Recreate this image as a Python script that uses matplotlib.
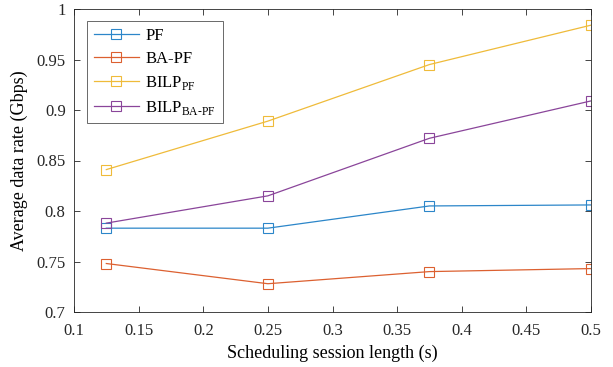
import matplotlib
matplotlib.use('Agg')
import matplotlib.pyplot as plt

plt.rcParams['font.family'] = 'Liberation Serif'
plt.rcParams['mathtext.fontset'] = 'custom'
plt.rcParams['mathtext.rm'] = 'Liberation Serif'

# session lengths and average rates per scheme
session_len = [0.125, 0.25, 0.375, 0.5]
rate_pf = [0.783, 0.783, 0.805, 0.806]
rate_ba_pf = [0.748, 0.728, 0.740, 0.743]
rate_bilp_pf = [0.841, 0.889, 0.945, 0.984]
rate_bilp_ba_pf = [0.788, 0.815, 0.872, 0.909]

labels = ['PF', 'BA-PF', r'BILP$_{\mathrm{PF}}$', r'BILP$_{\mathrm{BA\text{-}PF}}$']
colors = ['#2c86c9', '#dc6030', '#efbb3a', '#8a459a']

fig = plt.figure(figsize=(6.13, 3.67), dpi=100)
ax = fig.add_axes([74 / 613, 55 / 367, 517 / 613, 303 / 367])

for ys, lab, c in zip([rate_pf, rate_ba_pf, rate_bilp_pf, rate_bilp_ba_pf], labels, colors):
    ax.plot(session_len, ys, color=c, marker='s', markersize=7, markerfacecolor='none',
            markeredgewidth=0.8, linewidth=0.9, label=lab)

ax.set_xlim(0.1, 0.5)
ax.set_ylim(0.7, 1.0)
ax.set_xticks([0.1, 0.15, 0.2, 0.25, 0.3, 0.35, 0.4, 0.45, 0.5])
ax.set_xticklabels(['0.1', '0.15', '0.2', '0.25', '0.3', '0.35', '0.4', '0.45', '0.5'])
ax.set_yticks([0.7, 0.75, 0.8, 0.85, 0.9, 0.95, 1.0])
ax.set_yticklabels(['0.7', '0.75', '0.8', '0.85', '0.9', '0.95', '1'])
ax.tick_params(direction='in', top=True, right=True, labelsize=12, length=4, width=0.6, colors='#262626')
ax.tick_params(axis='x', pad=8)
ax.tick_params(axis='y', pad=6)
for s in ax.spines.values():
    s.set_linewidth(0.6)
    s.set_color('#262626')

ax.set_xlabel('Scheduling session length (s)', fontsize=13, labelpad=4)
ax.set_ylabel('Average data rate (Gbps)', fontsize=13, labelpad=6)

leg = ax.legend(loc='upper left', bbox_to_anchor=(0.025, 0.96), borderaxespad=0, fontsize=12,
                fancybox=False, edgecolor='#262626', handlelength=2.7, handletextpad=0.4,
                labelspacing=0.42, borderpad=0.4)
leg.get_frame().set_linewidth(0.6)

fig.savefig('out.png', dpi=100)
